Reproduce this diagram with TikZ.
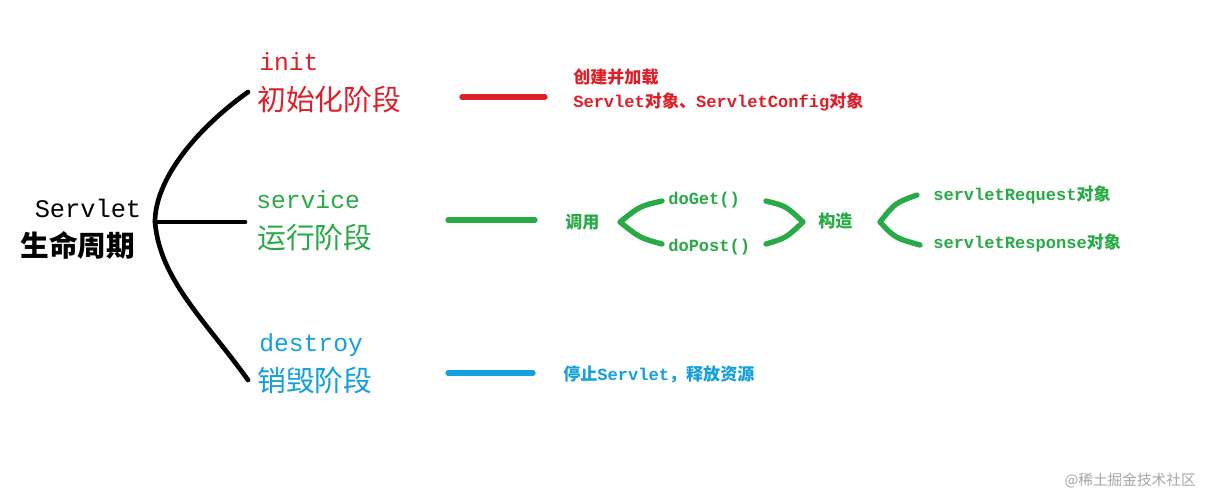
\documentclass[tikz,border=0pt]{standalone}
\usepackage{fontspec}
\setmonofont{Liberation Mono}
\newfontfamily\cjk{Noto Sans CJK SC}
\definecolor{cred}{RGB}{222,30,40}
\definecolor{cgreen}{RGB}{40,170,70}
\definecolor{cblue}{RGB}{20,160,220}
\begin{document}
\begin{tikzpicture}[x=0.75pt,y=-0.75pt,
  big/.style={font=\fontsize{18.5}{20}\selectfont\ttfamily},
  bigc/.style={font=\fontsize{21.6}{24}\selectfont\cjk},
  small/.style={font=\fontsize{12.8}{14}\selectfont\ttfamily\bfseries,anchor=west,inner sep=0pt},
  stroke/.style={line width=4pt,line cap=round,line join=round}]
\useasboundingbox[fill=white] (0,0) rectangle (1211,497);
% left
\node[big,inner sep=0pt,font=\fontsize{19}{20}\selectfont\ttfamily] (sv) at (88,208) {Servlet};
\node[inner sep=0pt,font=\fontsize{21.5}{24}\selectfont\cjk\bfseries] (sm) at (78,245) {生命周期};
\coordinate (root) at (155,222);
\coordinate (top) at (248,92);
\coordinate (bot) at (248,380);
\coordinate (mid) at (245,222);
\draw[stroke,line width=3.5pt] (top) .. controls (195,130) and (155,180) .. (root) .. controls (160,280) and (205,320) .. (bot);
\draw[stroke,line width=3.5pt] (root) -- (mid);
% init
\node[big,cred,anchor=west,inner sep=0pt] (init) at (259,62) {init};
\node[bigc,cred,anchor=west,inner sep=0pt] (initc) at (257,100) {初始化阶段};
\coordinate (r1) at (462,97); \coordinate (r2) at (545,97);
\draw[stroke,cred] (r1) -- (r2);
\node[small,cred] (t1) at (573,77) {\cjk 创建并加载};
\node[small,cred] (t2) at (573,102) {Servlet{\cjk 对象、}ServletConfig{\cjk 对象}};
% service
\node[big,cgreen,anchor=west,inner sep=0pt] (svc) at (256,200) {service};
\node[bigc,cgreen,anchor=west,inner sep=0pt] (svcc) at (257,238) {运行阶段};
\coordinate (g1) at (448,220); \coordinate (g2) at (535,220);
\draw[stroke,cgreen] (g1) -- (g2);
\node[small,cgreen] (dy) at (565,222) {\cjk 调用};
\coordinate (a1) at (662,201); \coordinate (a2) at (620,222); \coordinate (a3) at (662,244);
\draw[stroke,cgreen] (a1) .. controls (640,206) .. (a2) .. controls (640,238) .. (a3);
\node[small,cgreen] (dg) at (668,200) {doGet()};
\node[small,cgreen] (dp) at (668,247) {doPost()};
\coordinate (b1) at (766,201); \coordinate (b2) at (803,222); \coordinate (b3) at (766,244);
\draw[stroke,cgreen] (b1) .. controls (786,206) .. (b2) .. controls (786,238) .. (b3);
\node[small,cgreen] (gz) at (818,221) {\cjk 构造};
\coordinate (c1) at (917,195); \coordinate (c2) at (880,222); \coordinate (c3) at (920,245);
\draw[stroke,cgreen] (c1) .. controls (895,203) .. (c2) .. controls (895,238) .. (c3);
\node[small,cgreen] (rq) at (933,195) {servletRequest{\cjk 对象}};
\node[small,cgreen] (rs) at (933,243) {servletResponse{\cjk 对象}};
% destroy
\node[big,cblue,anchor=west,inner sep=0pt] (ds) at (259,345) {destroy};
\node[bigc,cblue,anchor=west,inner sep=0pt] (dsc) at (257,381) {销毁阶段};
\coordinate (u1) at (448,373); \coordinate (u2) at (533,373);
\draw[stroke,cblue] (u1) -- (u2);
\node[small,cblue] (tz) at (563,374) {{\cjk 停止}Servlet{\cjk ，释放资源}};
% watermark
\node[font=\fontsize{11}{13}\selectfont\cjk,text=gray!70,anchor=east,inner sep=0pt] (wm) at (1196,481) {@稀土掘金技术社区};
\end{tikzpicture}
\end{document}
